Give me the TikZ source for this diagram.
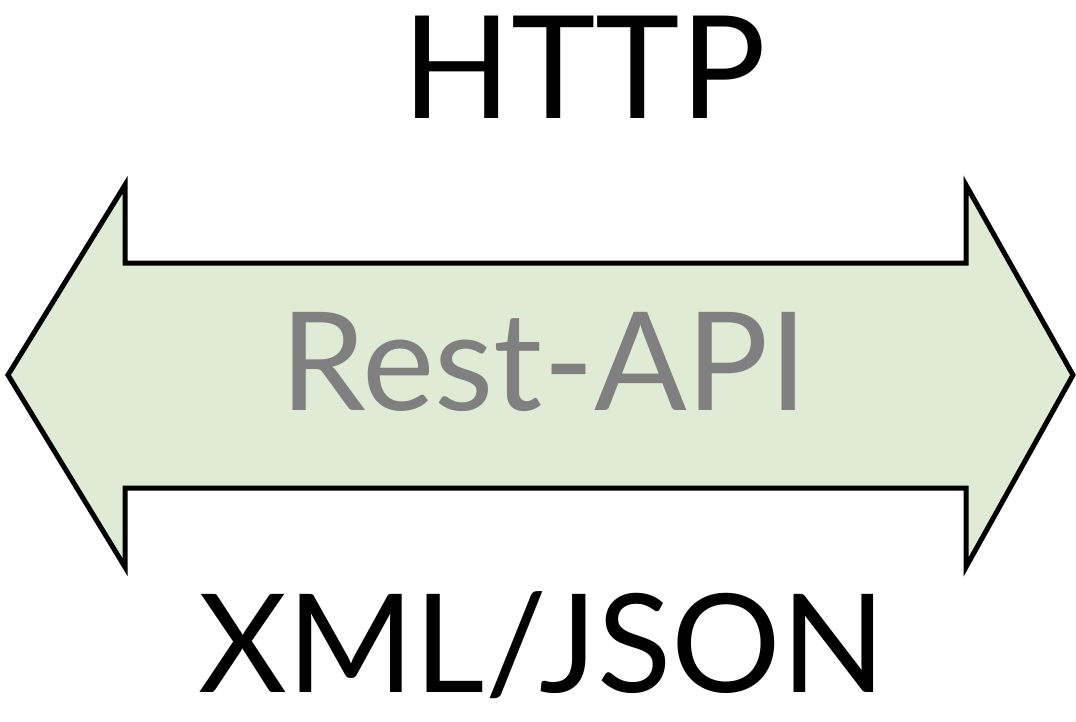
\documentclass[tikz,border=0pt]{standalone}
\usepackage{fontspec}
\setmainfont{Lato}
\definecolor{arrowfill}{HTML}{E0EBD6}
\definecolor{labelgray}{HTML}{808080}
\begin{document}
\begin{tikzpicture}[x=1pt,y=-1pt,
  bigtext/.style={inner sep=0pt, anchor=base, font=\fontsize{143}{150}\selectfont},
  midtext/.style={inner sep=0pt, anchor=base, font=\fontsize{137}{145}\selectfont},
  arrowshape/.style={draw=black, line width=5pt, fill=arrowfill, line join=miter}]
\useasboundingbox (0,0) rectangle (1076,721);
\draw[arrowshape] (8,375) -- (125,185) -- (125,263) -- (966,263) -- (966,185)
  -- (1073,375) -- (966,567) -- (966,488) -- (125,488) -- (125,567) -- cycle;
\node[bigtext] (http) at (584,118) {HTTP};
\node[midtext, text=labelgray] (rest) at (544,410) {Rest-API};
\node[midtext] (xml) at (542,692) {XML/JSON};
\end{tikzpicture}
\end{document}
